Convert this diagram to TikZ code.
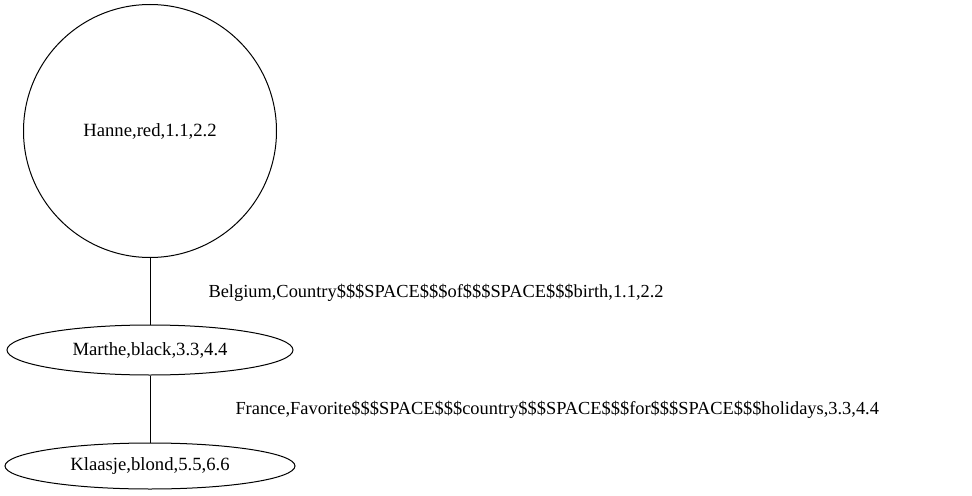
\documentclass[tikz,border=0pt]{standalone}
\usepackage{fontspec}
\setmainfont{Liberation Serif}
\usepackage{tikz}
\usetikzlibrary{shapes.geometric, positioning}

\begin{document}
\begin{tikzpicture}[x=0.75pt, y=-0.75pt, line width=0.75pt,
		person/.style={draw, ellipse, inner sep=0pt, font=\fontsize{14}{17}\selectfont},
		edgelabel/.style={midway, anchor=west, inner sep=0pt, font=\fontsize{13.8}{17}\selectfont}]
			\useasboundingbox (0, 0) rectangle (972, 496);
			\node[person, circle, minimum size=189.75pt] (H) at (150, 131) {Hanne,red,1.1,2.2};
			\node[person, minimum width=214.5pt, minimum height=37.5pt] (M) at (150, 350) {Marthe,black,3.3,4.4};
			\node[person, minimum width=217.5pt, minimum height=34.5pt] (K) at (150, 466) {Klaasje,blond,5.5,6.6};
			\draw (H) -- node[edgelabel, xshift=43.5pt, yshift=-1.5pt] (HM) {Belgium,Country\$\$\$SPACE\$\$\$of\$\$\$SPACE\$\$\$birth,1.1,2.2} (M);
			\draw (M) -- node[edgelabel, xshift=63.75pt, yshift=-0.5pt] (MK) {France,Favorite\$\$\$SPACE\$\$\$country\$\$\$SPACE\$\$\$for\$\$\$SPACE\$\$\$holidays,3.3,4.4} (K);
			\end{tikzpicture}
\end{document}
